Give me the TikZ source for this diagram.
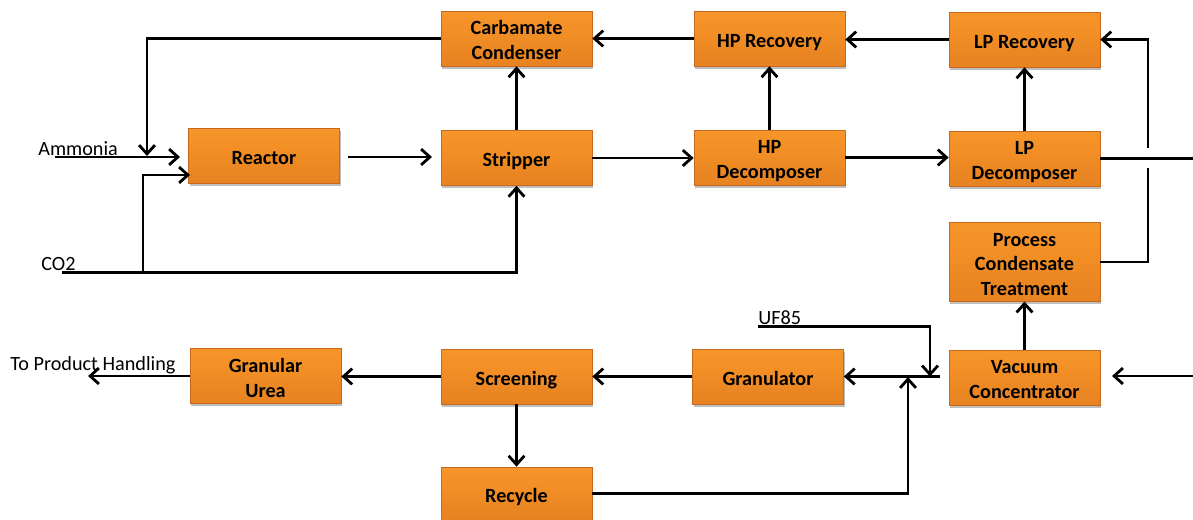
\documentclass[tikz,border=0pt]{standalone}
\usepackage{fontspec}
\setmainfont{Carlito}
\usetikzlibrary{arrows.meta,shadows,calc}
\definecolor{ob0}{HTML}{C9661A}
\definecolor{ob1}{HTML}{E07C1E}
\definecolor{ob2}{HTML}{F28E25}
\definecolor{ob3}{HTML}{F89A2C}
\definecolor{ob4}{HTML}{FCBE68}
\definecolor{obd}{HTML}{C8681E}
\pgfdeclareverticalshading{boxshade}{100bp}{color(0bp)=(ob0); color(10bp)=(ob1); color(55bp)=(ob2); color(86bp)=(ob3); color(93bp)=(ob4); color(100bp)=(ob4)}
\newcommand{\boxstrut}{\rule[-2pt]{0pt}{14.2pt}}
\begin{document}
\begin{tikzpicture}[x=0.02cm,y=-0.02cm,
  box/.style={draw=obd, line width=0.4pt, shading=boxshade,
    minimum width=3.02cm, minimum height=1.1cm, align=center, inner sep=1pt,
    font=\bfseries\fontsize{11.5}{14.2}\selectfont,
    execute at begin node=\boxstrut, execute at end node=\boxstrut,
    drop shadow={shadow xshift=0.8pt, shadow yshift=-1.6pt, opacity=0.25, fill=black}},
  lbl/.style={font=\fontsize{11.5}{14}\selectfont, inner sep=0pt},
  ln/.style={line width=1.6pt},
  arr/.style={ln, -{Straight Barb[length=5pt,width=9pt]}}]
\path[use as bounding box, fill=white] (0,0) rectangle (1193,520);

% boxes
\node[box] (cc) at (516.5,38.5) {\boxstrut Carbamate\\Condenser\boxstrut};
\node[box] (hpr) at (769.5,38.5) {HP Recovery};
\node[box] (lpr) at (1024.5,39.5) {LP Recovery};
\node[box] (reactor) at (264,155.5) {Reactor};
\node[box] (stripper) at (516.5,158) {Stripper};
\node[box] (hpd) at (769.5,157.5) {\boxstrut HP\\Decomposer\boxstrut};
\node[box] (lpd) at (1024.5,158.5) {\boxstrut LP\\Decomposer\boxstrut};
\node[box, minimum height=1.56cm] (pct) at (1024.5,262) {\boxstrut Process\\Condensate\\Treatment\boxstrut};
\node[box] (gu) at (265.5,376) {\boxstrut Granular\\Urea\boxstrut};
\node[box] (scr) at (516.5,376.5) {Screening};
\node[box] (gran) at (768,376.5) {Granulator};
\node[box] (vc) at (1024.5,377.5) {\boxstrut Vacuum\\Concentrator\boxstrut};
\node[box, minimum height=1.06cm] (rec) at (516.5,493.5) {Recycle};

% labels
\node[lbl, anchor=base west] (ammonia) at (38,156) {Ammonia};
\node[lbl, anchor=base west] (co2) at (41,270.5) {CO2};
\node[lbl, anchor=base west] (uf85) at (758,324) {UF85};
\node[lbl, anchor=base west] (tph) at (10,370) {To Product Handling};

% free ends
\coordinate (amS) at (55,157);
\coordinate (amE) at (180,157);
\coordinate (fbE) at (147,156);
\coordinate (co2S) at (62,272.7);
\coordinate (co2J) at (143,272.7);
\coordinate (rxIn) at (190,175);
\coordinate (rxOutS) at (348,157);
\coordinate (rxOutE) at (432,157);
\coordinate (outR) at (1193,157);
\coordinate (gapLo) at (1148,168);
\coordinate (gapHi) at (1148,148);
\coordinate (inR) at (1193,376);
\coordinate (inRE) at (1112,376);
\coordinate (vcOut) at (940,376.5);
\coordinate (ufS) at (758,326.7);
\coordinate (ufE) at (930,376.5);
\coordinate (recE) at (908,377);
\coordinate (guOut) at (88,376);

% connectors
\draw[arr] (cc.west) -| (fbE);
\draw[arr] (amS) -- (amE);
\draw[arr] (co2S) -| (stripper.south);
\draw[arr] (co2J) |- (rxIn);
\draw[arr] (rxOutS) -- (rxOutE);
\draw[arr] (stripper) -- (cc);
\draw[arr] (stripper.east) -- (stripper.east -| hpd.west);
\draw[arr] (hpd) -- (hpr);
\draw[arr] (hpr.west) -- (hpr.west -| cc.east);
\draw[arr] (lpr.west) -- (lpr.west -| hpr.east);
\draw[arr] (hpd.east) -- (hpd.east -| lpd.west);
\draw[arr] (lpd) -- (lpr);
\draw[ln] (lpd.east) -- (lpd.east -| outR);
\draw[ln] (pct.east) -| (gapLo);
\draw[arr] (gapHi) |- (lpr.east);
\draw[arr] (vc) -- (pct);
\draw[arr] (inR) -- (inRE);
\draw[arr] (vcOut) -- (vcOut -| gran.east);
\draw[arr] (ufS) -| (ufE);
\draw[arr] (rec.east) -| (recE);
\draw[arr] (gran.west) -- (gran.west -| scr.east);
\draw[arr] (scr.west) -- (scr.west -| gu.east);
\draw[arr] (scr) -- (rec);
\draw[arr] (gu.west) -- (guOut);
\end{tikzpicture}
\end{document}
